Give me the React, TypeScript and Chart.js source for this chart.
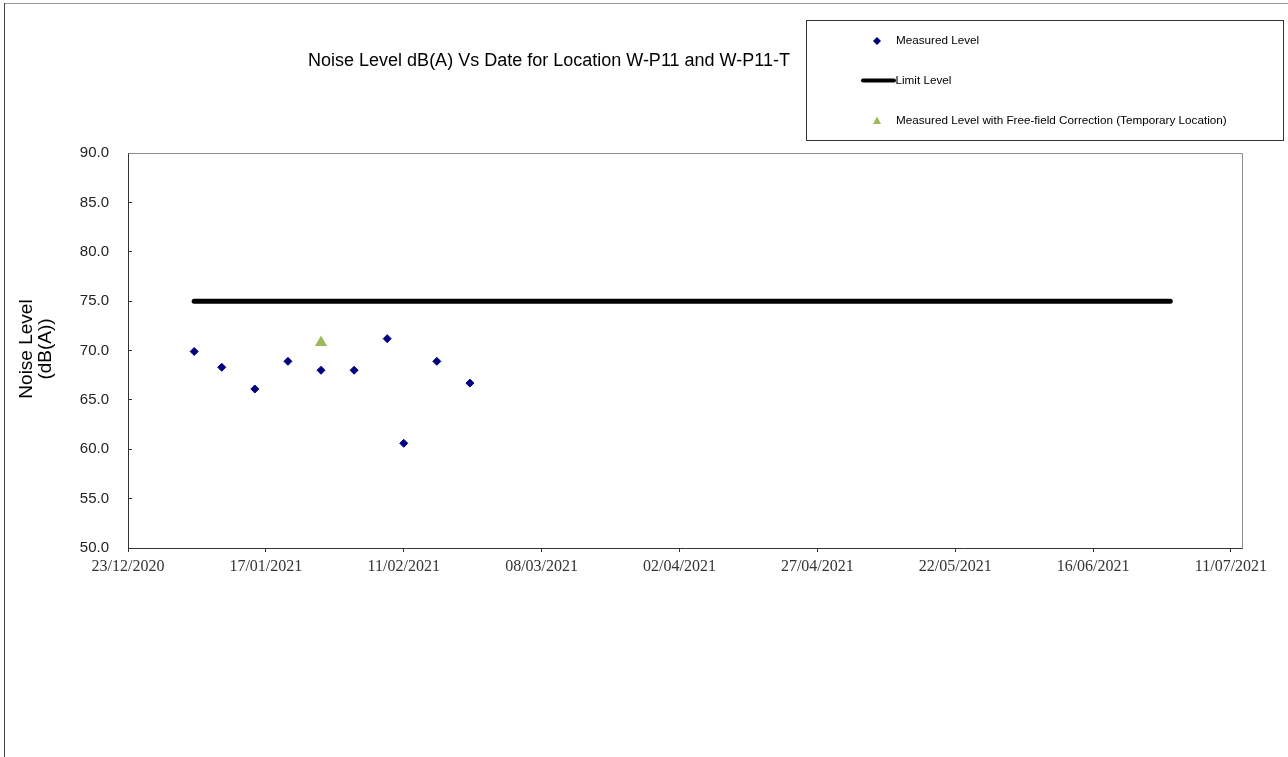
import React, { useEffect, useRef } from "react";
import { Chart, registerables } from "chart.js";

Chart.register(...registerables);

// ---------- data ----------
const chartTitle = "Noise Level dB(A) Vs Date for Location W-P11 and W-P11-T";
const yTitleLines = ["Noise Level", "(dB(A))"];
const axisStartDate = "23/12/2020";
const xTickDates = [
  "23/12/2020", "17/01/2021", "11/02/2021", "08/03/2021", "02/04/2021",
  "27/04/2021", "22/05/2021", "16/06/2021", "11/07/2021",
];
const xAxisEndDate = "13/07/2021";
const yTickValues = [50, 55, 60, 65, 70, 75, 80, 85, 90];

const measuredLabel = "Measured Level";
const measuredDates = [
  "04/01/2021", "09/01/2021", "15/01/2021", "21/01/2021", "27/01/2021",
  "02/02/2021", "08/02/2021", "11/02/2021", "17/02/2021", "23/02/2021",
];
const measuredLevels = [69.9, 68.3, 66.1, 68.9, 68.0, 68.0, 71.2, 60.6, 68.9, 66.7];

const limitLabel = "Limit Level";
const limitDates = ["04/01/2021", "30/06/2021"];
const limitLevels = [75, 75];

const correctedLabel = "Measured Level with Free-field Correction (Temporary Location)";
const correctedDates = ["27/01/2021"];
const correctedLevels = [70.8];

// ---------- helpers ----------
const DAY_MS = 86400000;
function parseDMY(s: string): number {
  const [d, m, y] = s.split("/").map(Number);
  return Date.UTC(y, m - 1, d);
}
const originMs = parseDMY(axisStartDate);
const toDay = (s: string) => Math.round((parseDMY(s) - originMs) / DAY_MS);
const pad2 = (n: number) => (n < 10 ? "0" + n : "" + n);
const fmtDay = (day: number) => {
  const dt = new Date(originMs + day * DAY_MS);
  return `${pad2(dt.getUTCDate())}/${pad2(dt.getUTCMonth() + 1)}/${dt.getUTCFullYear()}`;
};
const zip = (dates: string[], vals: number[]) => dates.map((d, i) => ({ x: toDay(d), y: vals[i] }));

const SANS = "'Liberation Sans', Arial, sans-serif";
const SERIF = "'Liberation Serif', 'Times New Roman', serif";
const NAVY = "#000080";
const GREEN = "#9BBB59";

const W = 1288;
const H = 757;
const AREA = { left: 128, top: 153, right: 1242, bottom: 548 };

const decorPlugin = {
  id: "decor",
  beforeDatasetsDraw(chart: any) {
    const ctx = chart.ctx;
    const a = chart.chartArea;
    ctx.save();
    ctx.strokeStyle = "#8c8c8c";
    ctx.lineWidth = 1;
    ctx.beginPath();
    ctx.moveTo(Math.round(a.left) + 0.5, Math.round(a.top) + 0.5);
    ctx.lineTo(Math.round(a.right) + 0.5, Math.round(a.top) + 0.5);
    ctx.lineTo(Math.round(a.right) + 0.5, Math.round(a.bottom) + 0.5);
    ctx.stroke();
    ctx.restore();
  },
  afterDraw(chart: any) {
    const ctx = chart.ctx;
    ctx.save();
    // outer frame
    ctx.lineWidth = 1;
    ctx.strokeStyle = "#9a9a9a";
    ctx.beginPath();
    ctx.moveTo(4, 3.5);
    ctx.lineTo(W, 3.5);
    ctx.stroke();
    ctx.strokeStyle = "#444";
    ctx.beginPath();
    ctx.moveTo(4.5, 3);
    ctx.lineTo(4.5, H);
    ctx.stroke();

    // title
    ctx.fillStyle = "#000";
    ctx.font = `18px ${SANS}`;
    ctx.textAlign = "center";
    ctx.textBaseline = "middle";
    ctx.fillText(chartTitle, 549, 61.5);

    // y-axis title
    ctx.font = `19px ${SANS}`;
    const yCenters = [26.5, 45.5];
    yTitleLines.forEach((t, i) => {
      ctx.save();
      ctx.translate(yCenters[i], 349);
      ctx.rotate(-Math.PI / 2);
      ctx.fillText(t, 0, 0);
      ctx.restore();
    });

    // legend box
    ctx.strokeStyle = "#333";
    ctx.lineWidth = 1;
    ctx.strokeRect(806.5, 20.5, 477, 120);
    ctx.font = `11.7px ${SANS}`;
    ctx.textAlign = "left";
    ctx.textBaseline = "middle";
    // measured
    ctx.fillStyle = NAVY;
    ctx.beginPath();
    ctx.moveTo(877, 37);
    ctx.lineTo(881, 41);
    ctx.lineTo(877, 45);
    ctx.lineTo(873, 41);
    ctx.closePath();
    ctx.fill();
    ctx.fillStyle = "#000";
    ctx.fillText(measuredLabel, 896, 41);
    // limit
    ctx.strokeStyle = "#000";
    ctx.lineWidth = 4;
    ctx.lineCap = "round";
    ctx.beginPath();
    ctx.moveTo(863, 80.5);
    ctx.lineTo(894, 80.5);
    ctx.stroke();
    ctx.fillText(limitLabel, 895.5, 80.5);
    // corrected
    ctx.fillStyle = GREEN;
    ctx.beginPath();
    ctx.moveTo(877, 116.5);
    ctx.lineTo(881, 124);
    ctx.lineTo(873, 124);
    ctx.closePath();
    ctx.fill();
    ctx.fillStyle = "#000";
    ctx.fillText(correctedLabel, 896, 121);
    ctx.restore();
  },
};

export default function App() {
  const ref = useRef<HTMLCanvasElement | null>(null);

  useEffect(() => {
    if (!ref.current) return;
    const xTicks = xTickDates.map(toDay);
    const chart = new Chart(ref.current, {
      type: "scatter",
      data: {
        datasets: [
          {
            label: measuredLabel,
            data: zip(measuredDates, measuredLevels),
            pointStyle: "rectRot",
            pointRadius: 4,
            pointBorderWidth: 1,
            backgroundColor: NAVY,
            borderColor: NAVY,
            showLine: false,
            order: 2,
          },
          {
            label: limitLabel,
            data: zip(limitDates, limitLevels),
            showLine: true,
            borderColor: "#000",
            backgroundColor: "#000",
            borderWidth: 5,
            borderCapStyle: "round",
            pointRadius: 0,
            order: 3,
          },
          {
            label: correctedLabel,
            data: zip(correctedDates, correctedLevels),
            pointStyle: "triangle",
            pointRadius: 7,
            pointBorderWidth: 0,
            backgroundColor: GREEN,
            borderColor: GREEN,
            showLine: false,
            order: 1,
          },
        ] as any,
      },
      options: {
        animation: false,
        responsive: false,
        devicePixelRatio: 1,
        layout: {
          padding: { left: 0, top: AREA.top, right: W - AREA.right, bottom: H - AREA.bottom - 40 },
        },
        plugins: {
          legend: { display: false },
          title: { display: false },
          tooltip: { enabled: false },
        },
        scales: {
          x: {
            type: "linear",
            min: 0,
            max: toDay(xAxisEndDate),
            afterBuildTicks: (scale: any) => {
              scale.ticks = xTicks.map((v) => ({ value: v }));
            },
            afterFit: (scale: any) => {
              scale.height = 40;
            },
            ticks: {
              autoSkip: false,
              maxRotation: 0,
              minRotation: 0,
              padding: 5,
              color: "#333",
              font: { family: SERIF, size: 16 },
              callback: (v: any) => fmtDay(Number(v)),
            },
            grid: { drawOnChartArea: false, tickLength: 4, color: "#333" },
            border: { color: "#333", width: 1 },
          },
          y: {
            type: "linear",
            min: yTickValues[0],
            max: yTickValues[yTickValues.length - 1],
            afterBuildTicks: (scale: any) => {
              scale.ticks = yTickValues.map((v) => ({ value: v }));
            },
            afterFit: (scale: any) => {
              scale.width = AREA.left;
            },
            ticks: {
              padding: 23,
              color: "#222",
              font: { family: SANS, size: 15 },
              callback: (v: any) => Number(v).toFixed(1),
            },
            grid: { drawOnChartArea: false, tickLength: -4, color: "#333" },
            border: { color: "#333", width: 1 },
          },
        },
      } as any,
      plugins: [decorPlugin],
    });
    return () => chart.destroy();
  }, []);

  return (
    <div style={{ position: "absolute", left: 0, top: 0, width: W, height: H, background: "#fff", overflow: "hidden" }}>
      <canvas ref={ref} width={W} height={H} style={{ display: "block", width: W, height: H }} />
    </div>
  );
}
